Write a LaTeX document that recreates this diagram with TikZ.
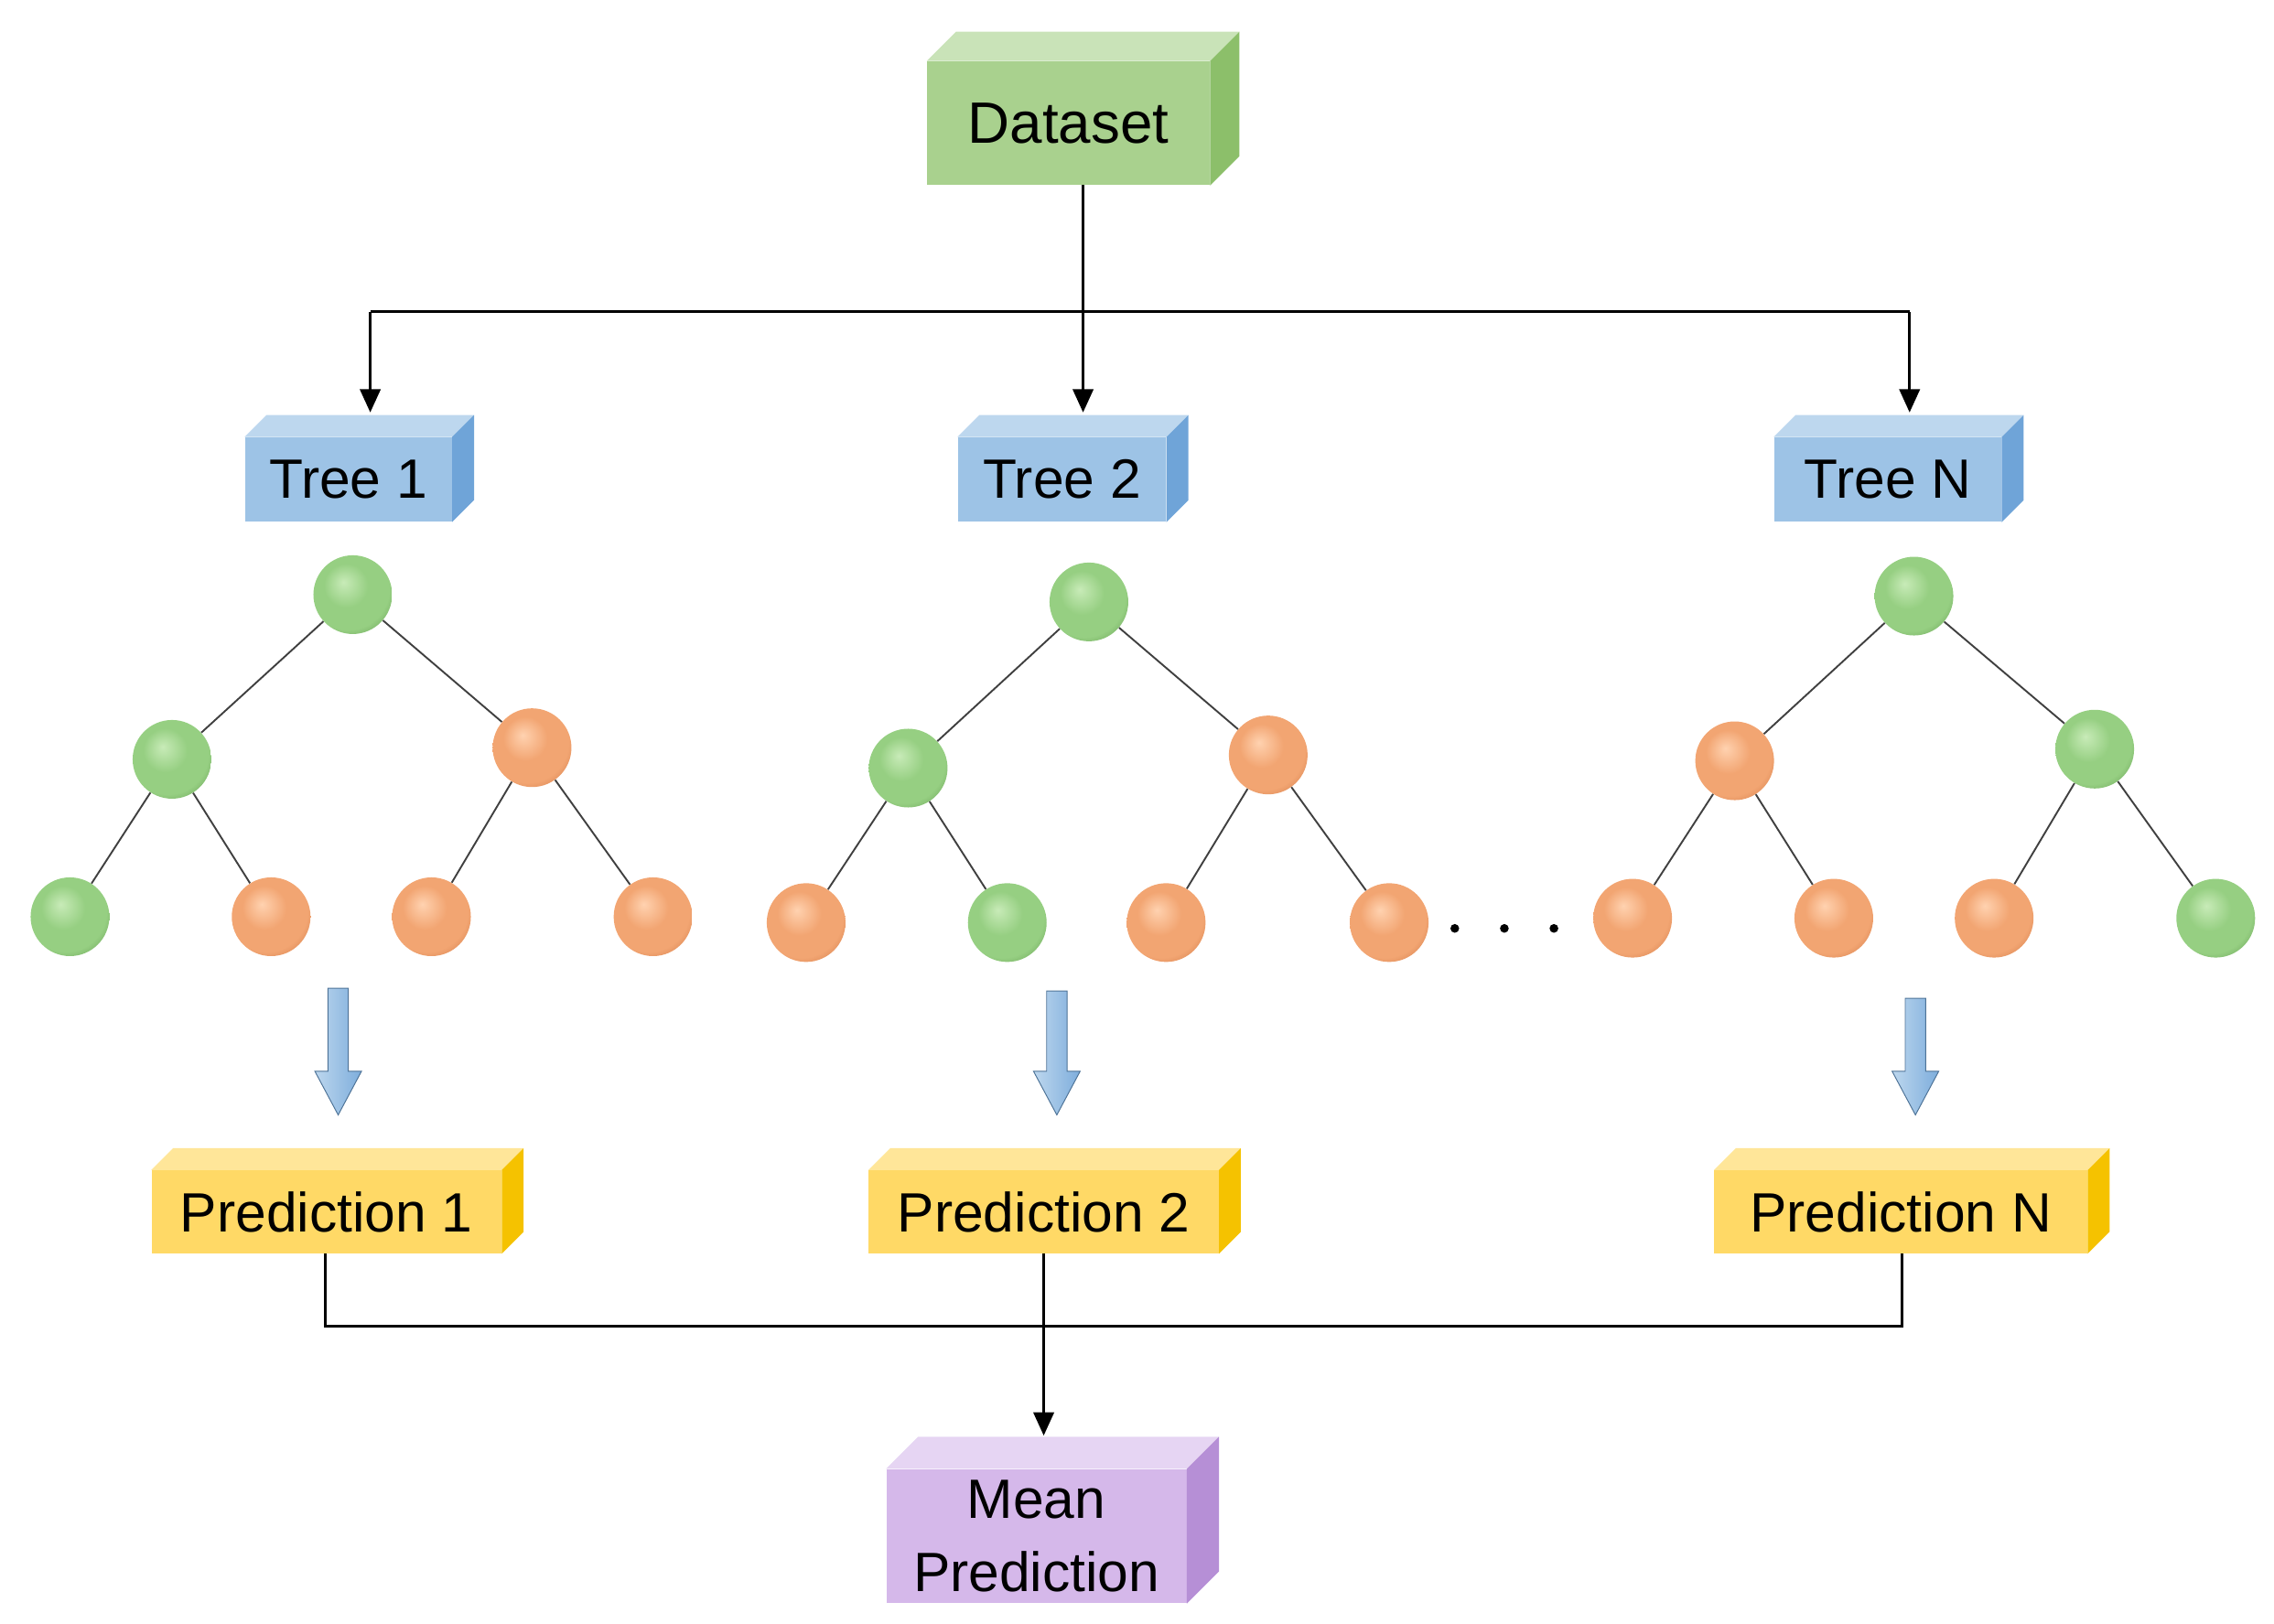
\documentclass[tikz,border=0pt]{standalone}
\usepackage{fontspec}
\setmainfont{Liberation Sans}
\usetikzlibrary{arrows.meta}
\definecolor{gF}{HTML}{A9D18E}\definecolor{gT}{HTML}{C9E3B8}\definecolor{gS}{HTML}{8CBF6A}
\definecolor{bF}{HTML}{9DC3E6}\definecolor{bT}{HTML}{BDD7EE}\definecolor{bS}{HTML}{6FA4D8}
\definecolor{yF}{HTML}{FFD966}\definecolor{yT}{HTML}{FFE699}\definecolor{yS}{HTML}{F5C200}
\definecolor{pF}{HTML}{D5B8EA}\definecolor{pT}{HTML}{E6D5F3}\definecolor{pS}{HTML}{B68FD6}
\definecolor{gL}{HTML}{C8EBB8}\definecolor{gb}{HTML}{96CF82}\definecolor{gD}{HTML}{6FA85C}
\definecolor{oL}{HTML}{FFD2B0}\definecolor{ob}{HTML}{F2A572}\definecolor{oD}{HTML}{D88350}
\pgfdeclareradialshading{gshade}{\pgfpoint{-6bp}{8bp}}{color(0bp)=(gL);color(14bp)=(gb);color(26bp)=(gb);color(34bp)=(gD);color(50bp)=(gD)}
\pgfdeclareradialshading{oshade}{\pgfpoint{-6bp}{8bp}}{color(0bp)=(oL);color(14bp)=(ob);color(26bp)=(ob);color(34bp)=(oD);color(50bp)=(oD)}
\newcommand\mycube[5]{% name, unused, top, side, depth
 \fill[#3] (#1.north west) -- ([shift={(#5,-#5)}]#1.north west) -- ([shift={(#5,-#5)}]#1.north east) -- (#1.north east) -- cycle;
 \fill[#4] (#1.north east) -- ([shift={(#5,-#5)}]#1.north east) -- ([shift={(#5,-#5)}]#1.south east) -- (#1.south east) -- cycle;}
\newcommand\blockarrow[3]{% x, ytop, ybottom
 \shade[left color=bT,right color=bS!90,draw=bS!70!black,line width=0.6pt]
  (#1-7,#2) -- (#1+7,#2) -- (#1+7,#3-30) -- (#1+16,#3-30) -- (#1,#3) -- (#1-16,#3-30) -- (#1-7,#3-30) -- cycle;}
\begin{document}
\begin{tikzpicture}[x=1pt,y=-1pt,
 box/.style={inner sep=0pt,font=\fontsize{38}{44}\selectfont},
 gball/.style={circle,minimum size=54pt,inner sep=0pt,shading=gshade},
 oball/.style={circle,minimum size=54pt,inner sep=0pt,shading=oshade},
 edge/.style={draw=black!75,line width=1.2pt},
 ln/.style={line width=2pt},
 arr/.style={ln,-{Triangle[length=16pt,width=14pt]}}]
\useasboundingbox (0,0) rectangle (1560,1114);
% boxes
\node[box,fill=gF,minimum width=194pt,minimum height=85pt,font=\fontsize{40}{46}\selectfont] (ds) at (733,84.5) {Dataset};
\mycube{ds}{}{gT}{gS}{20}
\node[box,fill=bF,minimum width=142pt,minimum height=58pt] (t1) at (239,329) {Tree 1};
\node[box,fill=bF,minimum width=143pt,minimum height=58pt] (t2) at (728.5,329) {Tree 2};
\node[box,fill=bF,minimum width=156pt,minimum height=58pt] (tn) at (1295,329) {Tree N};
\mycube{t1}{}{bT}{bS}{15}\mycube{t2}{}{bT}{bS}{15}\mycube{tn}{}{bT}{bS}{15}
\node[box,fill=yF,minimum width=240pt,minimum height=57pt] (p1) at (224,831.5) {Prediction 1};
\node[box,fill=yF,minimum width=240pt,minimum height=57pt] (p2) at (716,831.5) {Prediction 2};
\node[box,fill=yF,minimum width=256pt,minimum height=57pt] (pn) at (1304,831.5) {Prediction N};
\mycube{p1}{}{yT}{yS}{15}\mycube{p2}{}{yT}{yS}{15}\mycube{pn}{}{yT}{yS}{15}
\node[box,fill=pF,minimum width=206pt,minimum height=92pt,align=center,font=\fontsize{38}{50}\selectfont] (mp) at (711,1054) {Mean\\Prediction};
\mycube{mp}{}{pT}{pS}{22}
% connectors
\coordinate (h1) at (254,214);\coordinate (hn) at (1310,214);
\draw[ln] (743,127) -- (743,214);
\draw[ln] (h1) -- (hn);
\draw[arr] (743,127) -- (743,283);
\draw[arr] (h1) -- (254,283);
\draw[arr] (hn) -- (1310,283);
\draw[ln] (223,860) -- (223,910) -- (1305,910) -- (1305,860);
\draw[arr] (716,860) -- (716,985);
% trees
\foreach \n/\x/\y/\s in {a/242/408/g,b/118/521/g,c/365/513/o,d/48/629/g,e/186/629/o,f/296/629/o,g/448/629/o,
 A/747/413/g,B/623/527/g,C/870/518/o,D/553/633/o,E/691/633/g,F/800/633/o,G/953/633/o,
 P/1313/409/g,Q/1190/522/o,R/1437/514/g,S/1120/630/o,T/1258/630/o,U/1368/630/o,V/1520/630/g}
 \node[\s ball] (\n) at (\x,\y) {};
\foreach \u/\v in {a/b,a/c,b/d,b/e,c/f,c/g,A/B,A/C,B/D,B/E,C/F,C/G,P/Q,P/R,Q/S,Q/T,R/U,R/V}
 \draw[edge] (\u) -- (\v);
\foreach \x in {998,1032,1066} \fill (\x,637) circle (3pt);
% block arrows
\blockarrow{232}{678}{765}
\blockarrow{725}{680}{765}
\blockarrow{1314}{685}{765}
\end{tikzpicture}
\end{document}
